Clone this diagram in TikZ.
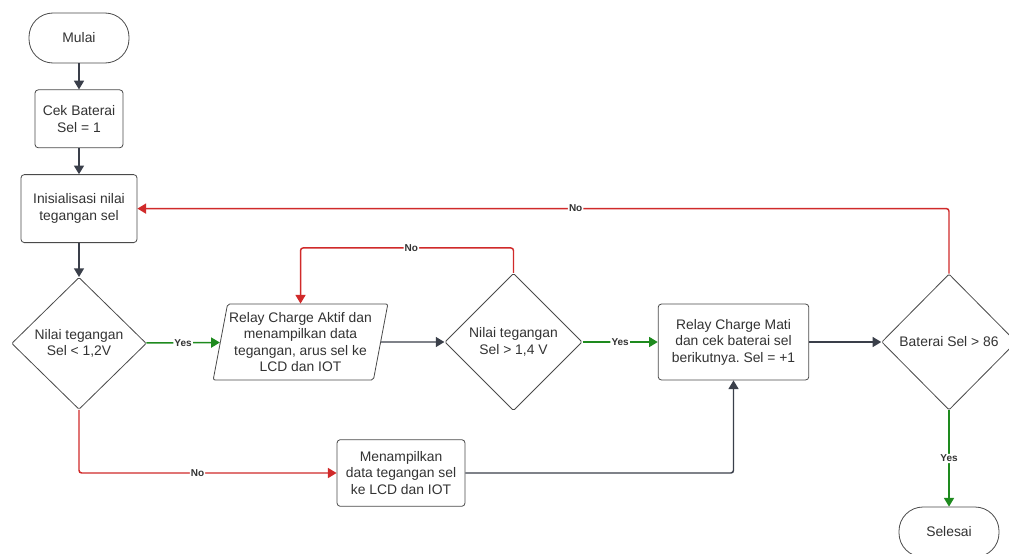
\documentclass[tikz,border=0pt]{standalone}
\usepackage{fontspec}
\setmainfont{Liberation Sans}
\usepackage{xcolor}
\usepackage{tikz}
\usetikzlibrary{arrows.meta, positioning, shapes.geometric}
\frenchspacing
\definecolor{fcLine}{HTML}{3A3F4A}
\definecolor{fcBorder}{HTML}{4A4A4A}
\definecolor{fcText}{HTML}{333333}
\definecolor{fcNo}{HTML}{D02A2A}
\definecolor{fcYes}{HTML}{1E8A1E}
\tikzset{
  fc-base/.style={
    draw=fcBorder, line width=0.6pt, fill=white, align=center,
    text=fcText, font=\fontsize{10.4}{12.4}\selectfont
  },
  fc-term/.style={
    fc-base, rectangle, rounded corners=18pt,
    minimum width=75pt, minimum height=37.5pt
  },
  fc-proc/.style={
    fc-base, rectangle, rounded corners=2.5pt, inner sep=2pt
  },
  fc-dec/.style={
    fc-base, diamond, inner sep=0pt, rounded corners=1pt
  },
  fc-io/.style={
    fc-base, trapezium, trapezium left angle=77, trapezium right angle=103,
    trapezium stretches body, inner sep=1pt, rounded corners=1.5pt
  },
  fc-flow/.style={-{Triangle[length=6.5pt,width=7.5pt]}, line width=1.1pt,
    draw=fcLine, rounded corners=2pt},
  fc-yes/.style={fc-flow, draw=fcYes},
  fc-no/.style={fc-flow, draw=fcNo},
  fc-lbl/.style={fill=white, inner sep=0.8pt, text=fcText,
    font=\fontsize{7.5}{9}\selectfont\bfseries},
}
\begin{document}
\begin{tikzpicture}[x=0.75pt, y=-0.75pt, node distance=19.5pt]
  \useasboundingbox (0,0) rectangle (1009,553);
  \clip (0,0) rectangle (1009,553);

  % left column
  \node[fc-term]                                   (mulai)  at (79,38) {Mulai};
  \node[fc-proc, below=of mulai, minimum width=66pt, minimum height=43.5pt]
                                                   (cek)    {Cek Baterai\\Sel = 1};
  \node[fc-proc, below=of cek, minimum width=87pt, minimum height=51pt]
                                                   (init)   {Inisialisasi nilai\\tegangan sel};
  \node[fc-dec, below=25.5pt of init, minimum width=101pt, minimum height=99pt]
                                                   (d1)     {Nilai tegangan\\Sel < 1,2V};

  % middle row
  \node[fc-io, minimum width=131pt, minimum height=57pt]
                                                   (aktif)  at (300.5,342) {Relay Charge Aktif dan\\menampilkan data\\tegangan, arus sel ke\\LCD dan IOT};
  \node[fc-dec, minimum width=103pt, minimum height=103pt]
                                                   (d2)     at (513.5,342) {Nilai tegangan\\Sel > 1,4 V};
  \node[fc-proc, minimum width=113pt, minimum height=57pt]
                                                   (mati)   at (733.5,342) {Relay Charge Mati\\dan cek baterai sel\\berikutnya. Sel = +1};
  \node[fc-dec, minimum width=101pt, minimum height=102pt]
                                                   (d3)     at (949,342) {Baterai Sel > 86};

  % bottom
  \node[fc-proc, minimum width=96pt, minimum height=50pt]
                                                   (tampil) at (401,473) {Menampilkan\\data tegangan sel\\ke LCD dan IOT};
  \node[fc-term]                                   (selesai) at (949,532) {Selesai};

  \draw[fc-flow] (mulai) -- (cek);
  \draw[fc-flow] (cek) -- (init);
  \draw[fc-flow] (init) -- (d1);
  \draw[fc-yes] (d1) -- node[fc-lbl] {Yes} (aktif);
  \draw[fc-no] (d1.south) |- node[fc-lbl, pos=0.73] {No} (tampil.west);
  \draw[fc-flow] (aktif) -- (d2);
  \draw[fc-no] (d2.north) -- ++(0,-25) -| node[fc-lbl, pos=0.24] {No} (aktif.north);
  \draw[fc-yes] (d2) -- node[fc-lbl] {Yes} (mati);
  \draw[fc-flow] (tampil.east) -| (mati.south);
  \draw[fc-flow] (mati) -- (d3);
  \draw[fc-no] (d3.north) |- node[fc-lbl, pos=0.73] {No} (init.east);
  \draw[fc-yes] (d3) -- node[fc-lbl] {Yes} (selesai);
\end{tikzpicture}
\end{document}
